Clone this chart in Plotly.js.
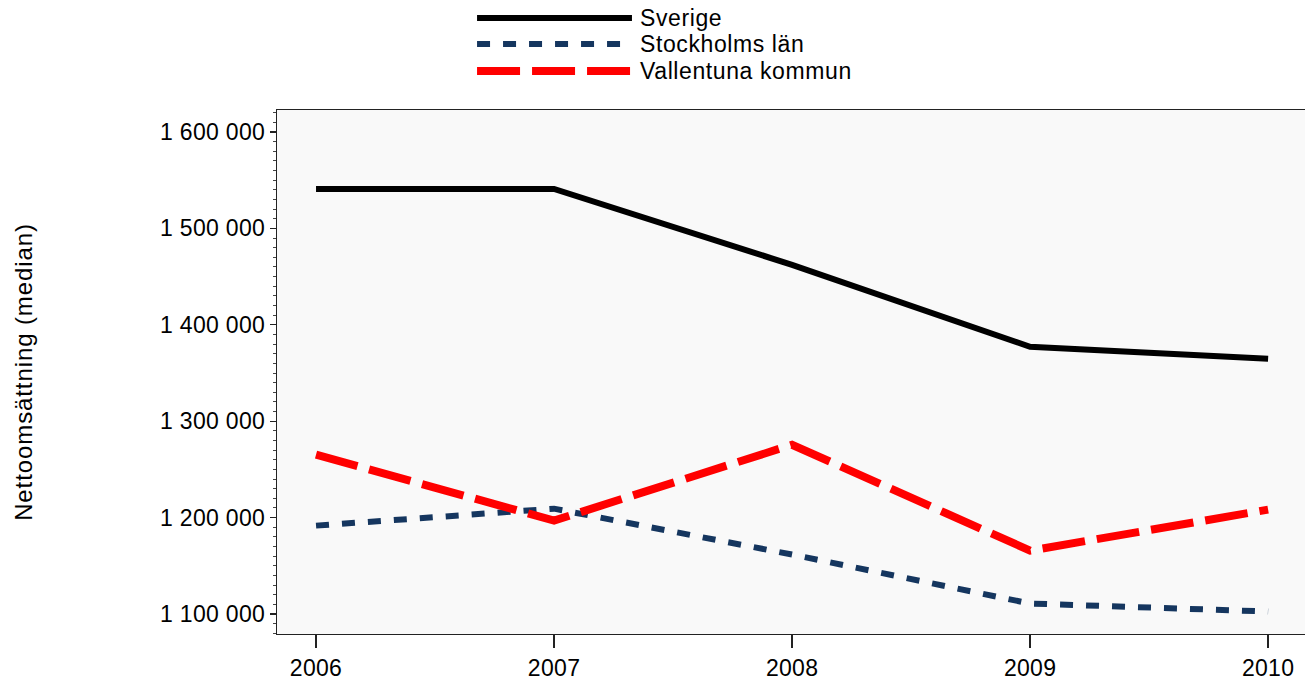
<!DOCTYPE html>
<html>
<head>
<meta charset="utf-8">
<script src="https://cdn.plot.ly/plotly-3.0.1.min.js"></script>
<style>
html,body{margin:0;padding:0;background:#fff;}
#chart{width:1305px;height:687px;}
.ytick text, .xtick text { letter-spacing: 0.3px; }
.annotation-text { letter-spacing: 0.6px; }
text.ytitle { letter-spacing: 0.9px; }
</style>
</head>
<body>
<div id="chart"></div>
<script>
const years = [2006, 2007, 2008, 2009, 2010];
const sverige = [1540900, 1540900, 1462200, 1377200, 1364800];
const stockholm = [1191700, 1209300, 1161700, 1110900, 1102600];
const vallentuna = [1265300, 1196900, 1275600, 1165800, 1208300];
const seriesNames = ["Sverige", "Stockholms län", "Vallentuna kommun"];
const yTitle = "Nettoomsättning (median)";

const font = "Liberation Sans, Arial, sans-serif";
const styles = [
  {color: "#000000", width: 6, dash: "solid"},
  {color: "#15365f", width: 6, dash: "13px,13px"},
  {color: "#ff0000", width: 8, dash: "43px,12px"}
];
const seriesValues = [sverige, stockholm, vallentuna];

const traces = seriesValues.map((vals, i) => ({
  x: years, y: vals, name: seriesNames[i], mode: "lines",
  line: styles[i], showlegend: false
}));

// Manual legend (long line samples, tight rows like the reference)
const legX0 = 0.1946, legX1 = 0.3453, legTextX = 0.3512;
const legRows = [1.1756, 1.1260, 1.0744];
const shapes = seriesNames.map((n, i) => ({
  type: "line", xref: "paper", yref: "paper",
  x0: legX0, x1: legX1, y0: legRows[i], y1: legRows[i],
  line: styles[i]
}));
const annotations = seriesNames.map((n, i) => ({
  xref: "paper", yref: "paper", x: legTextX, y: legRows[i],
  xanchor: "left", yanchor: "middle", showarrow: false, text: n,
  font: {family: font, size: 23, color: "#000"}
}));

const layout = {
  width: 1305, height: 687,
  margin: {l: 277, r: 0, t: 110, b: 53},
  paper_bgcolor: "#ffffff",
  plot_bgcolor: "#f9f9f9",
  separators: ", ",
  font: {family: font, size: 23, color: "#000"},
  showlegend: false,
  shapes: shapes,
  annotations: annotations,
  xaxis: {
    range: [2005.836, 2010.155],
    tickvals: years, ticktext: years.map(String),
    showgrid: false, zeroline: false,
    showline: true, linecolor: "#222", linewidth: 1.3, mirror: true,
    ticks: "outside", ticklen: 13, tickcolor: "#222", tickwidth: 1.3,
    tickfont: {family: font, size: 23, color: "#000"}
  },
  yaxis: {
    range: [1079300, 1622800],
    dtick: 100000, tickformat: ",d",
    showgrid: false, zeroline: false,
    showline: true, linecolor: "#222", linewidth: 1.3,
    ticks: "outside", ticklen: 6, tickcolor: "#222", tickwidth: 1.3,
    minor: {dtick: 10000, ticks: "outside", ticklen: 3, tickcolor: "#444", tickwidth: 1},
    tickfont: {family: font, size: 23, color: "#000"},
    title: {text: yTitle, font: {family: font, size: 24, color: "#000"}, standoff: 120}
  }
};

Plotly.newPlot("chart", traces, layout, {displayModeBar: false, staticPlot: true});
</script>
</body>
</html>
